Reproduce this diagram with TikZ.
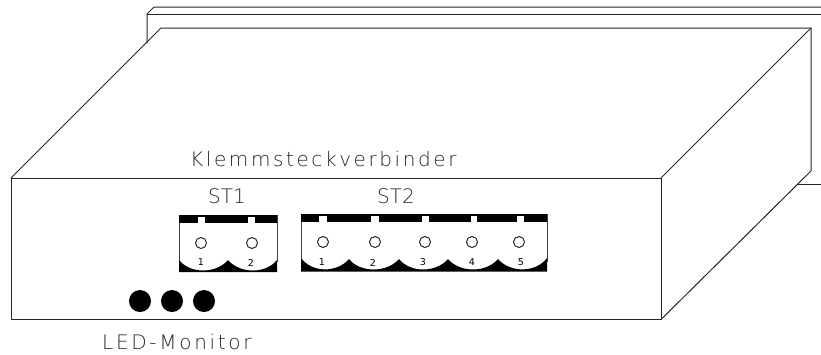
\documentclass[tikz,border=0pt]{standalone}
\usepackage{fontspec}
\setmainfont{Liberation Sans}
\newfontfamily\plotfont[LetterSpace=13]{DejaVu Sans ExtraLight}
\newfontfamily\plotmid[LetterSpace=13.5]{DejaVu Sans ExtraLight}
\newfontfamily\plotnar{DejaVu Sans ExtraLight}
\newfontfamily\plotdigit{DejaVu Sans}
\begin{document}
\begin{tikzpicture}[x=1pt,y=-1pt,
  edge/.style={draw=black!85,line width=1pt,line cap=round,line join=round},
  thin edge/.style={draw=black!75,line width=.8pt},
  bartop/.style={fill=black},
  hole/.style={fill=white,draw=none},
  pin/.style={circle,draw=black!85,line width=1pt,fill=white,minimum size=11pt,inner sep=0pt},
  led/.style={circle,fill=black,minimum size=22pt,inner sep=0pt},
  lab/.style={inner sep=0pt,text=black!85,font=\plotfont\fontsize{20}{20}\selectfont},
  labm/.style={inner sep=0pt,text=black!85,font=\plotmid\fontsize{20}{20}\selectfont},
  labn/.style={inner sep=0pt,text=black!85,font=\plotnar\fontsize{20}{20}\selectfont},
  num/.style={inner sep=0pt,text=black,font=\plotdigit\fontsize{9.5}{9.5}\selectfont}]
\useasboundingbox (0,0) rectangle (821,354);
% back unit
\coordinate (b1) at (147,43);
\coordinate (b2) at (147,14);
\coordinate (b3) at (154,7);
\coordinate (b4) at (821,7);
\coordinate (b5) at (821,14);
\coordinate (b6) at (797,184);
\coordinate (b7) at (821,184);
\draw[edge] (b1) -- (b2) -- (b3) -- (b4);
\draw[edge] (b2) -- (b5);
\draw[edge] (b6) -- (b7);
% housing
\coordinate (fa) at (11,178);
\coordinate (fb) at (661,178);
\coordinate (fc) at (661,319.5);
\coordinate (fd) at (11,319.5);
\coordinate (ta) at (161,28);
\coordinate (tb) at (811,28);
\coordinate (tc) at (811,171);
\draw[edge] (fa) -- (fb) -- (fc) -- (fd) -- cycle;
\draw[edge] (fa) -- (ta) -- (tb) -- (tc) -- (fc);
\draw[edge] (fb) -- (tb);
% ST1
\draw[thin edge] (179,215) -- (179,262);
\draw[thin edge] (277,215) -- (277,262);
\fill[bartop] (179,215) rectangle (277,223);
\fill[hole] (198,217) rectangle (205,223);
\fill[hole] (248,217) rectangle (255,223);
\fill[bartop] (179,272) -- (179,260)
  .. controls (190,274) and (216,274) .. (228,260)
  .. controls (240,274) and (266,274) .. (277,260) -- (277,272) -- cycle;
\node[pin] (p11) at (201,243) {};
\node[pin] (p12) at (252,243) {};
\node[num] (n11) at (201,262.5) {1};
\node[num] (n12) at (251,262.5) {2};
% ST2
\draw[thin edge] (301,214) -- (301,262);
\draw[thin edge] (547,214) -- (547,262);
\fill[bartop] (301,214) rectangle (547,222);
\foreach \a/\b in {319/327,371/379,422/429,471/477,517/524}
  \fill[hole] (\a,216) rectangle (\b,222);
\fill[bartop] (301,271.5) -- (301,258)
  .. controls (312,273) and (337,273) .. (349,259)
  .. controls (360,273) and (387,273) .. (399,259)
  .. controls (410,273) and (436,273) .. (448,259)
  .. controls (460,273) and (486,273) .. (498,259)
  .. controls (510,273) and (536,273) .. (547,258) -- (547,271.5) -- cycle;
\node[pin] (p21) at (323,242) {};
\node[pin] (p22) at (375,242) {};
\node[pin] (p23) at (425,242) {};
\node[pin] (p24) at (472,242) {};
\node[pin] (p25) at (519,242) {};
\node[num] (n21) at (322,262.5) {1};
\node[num] (n22) at (373,262.5) {2};
\node[num] (n23) at (423,262.5) {3};
\node[num] (n24) at (472,262.5) {4};
\node[num] (n25) at (521,262.5) {5};
% LEDs
\node[led] (l1) at (140,301) {};
\node[led] (l2) at (172,301) {};
\node[led] (l3) at (204,301) {};
% labels
\node[lab,anchor=base west] (kl) at (190,166) {Klemmsteckverbinder};
\node[labn,anchor=base west] (st1) at (208,203) {ST1};
\node[labn,anchor=base west] (st2) at (377,203) {ST2};
\node[labm,anchor=base west] (lm) at (102,349) {LED-Monitor};
\end{tikzpicture}
\end{document}
